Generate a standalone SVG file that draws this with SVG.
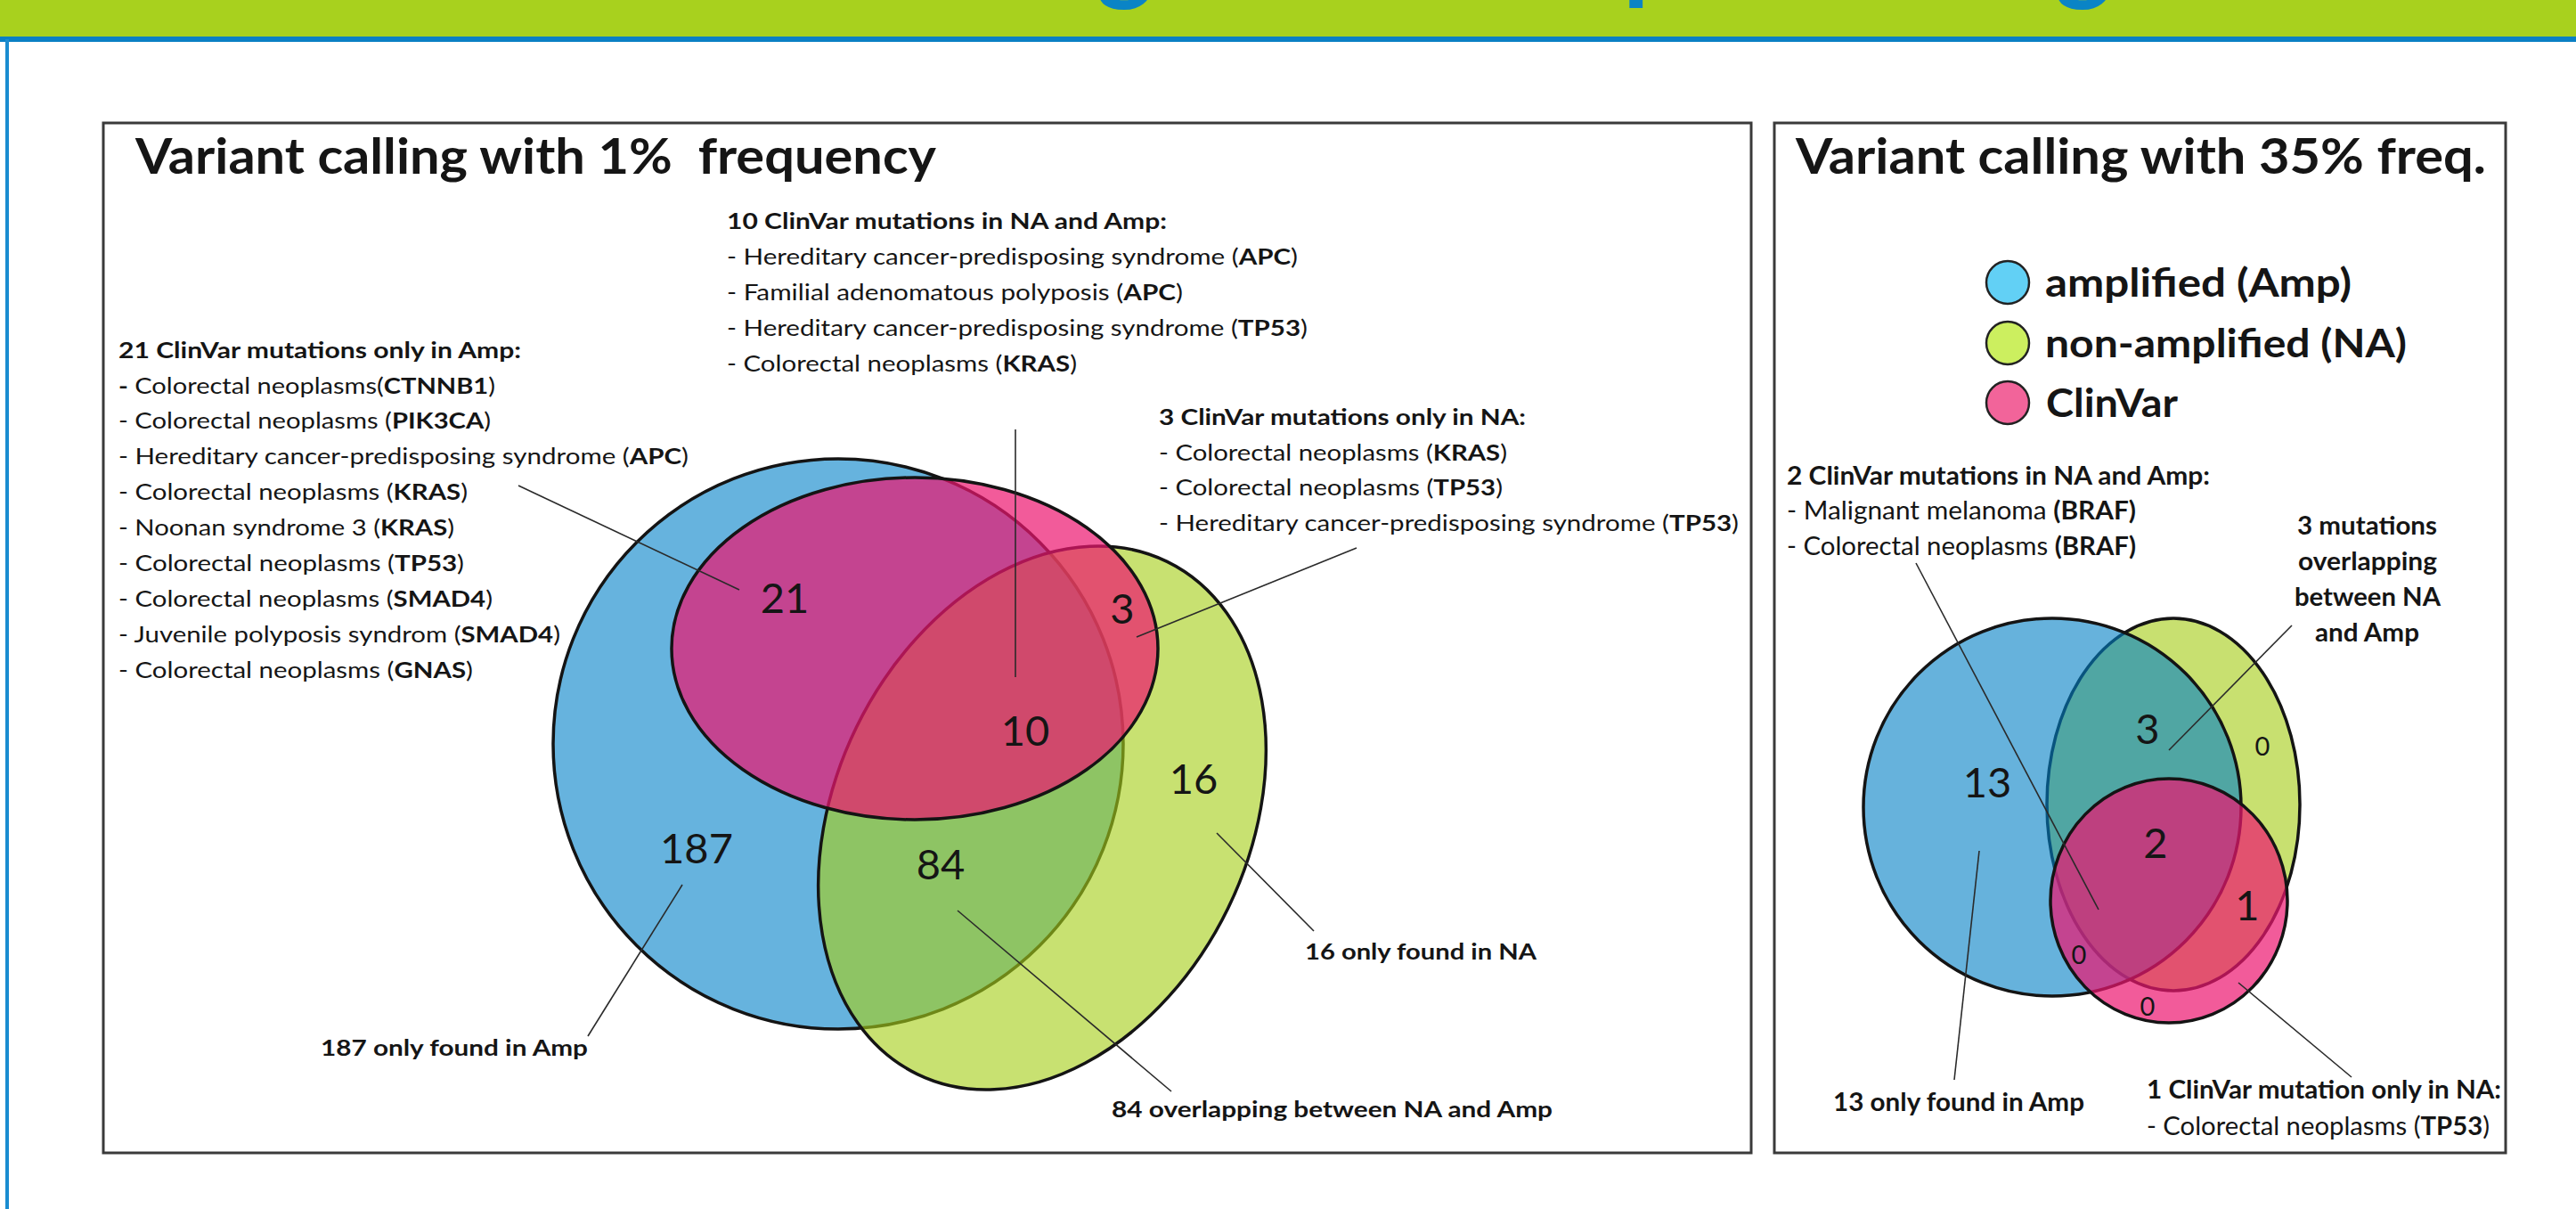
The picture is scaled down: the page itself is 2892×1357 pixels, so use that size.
<svg xmlns="http://www.w3.org/2000/svg" width="2892" height="1357" viewBox="0 0 2892 1357">
<style>
text{font-family:Lato,'Open Sans','Liberation Sans',sans-serif;fill:#151515}
.ti{font-size:56px;font-weight:700}
.l{font-size:25px}
.r{font-size:28px}
.b{font-weight:700}
.n{font-size:47px;text-anchor:middle}
.z{font-size:29px;text-anchor:middle}
.lg{font-size:43px;font-weight:700}
.box{fill:none;stroke:#3a3a3a;stroke-width:3}
.ol{stroke:#141414;stroke-width:3.5}
.ld{stroke:#2a2a2a;stroke-width:1.6;fill:none}
.ban{font-size:120px;font-weight:700;fill:#0A84C6}
.lc{stroke:#222;stroke-width:2.5}
</style>
<rect width="2892" height="1357" fill="#ffffff"/>
<g id="banner">
 <rect x="0" y="0" width="2892" height="42" fill="#A8D11E"/>
 <text class="ban" x="1263" y="-11" text-anchor="middle">g</text>
 <text class="ban" x="1822" y="-11">p</text>
 <text class="ban" x="2339" y="-11" text-anchor="middle">g</text>
 <rect x="0" y="41" width="2892" height="6" fill="#0A80C4"/>
 <rect x="6" y="44" width="4" height="1313" fill="#1A8CD0"/>
</g>

<g id="panel-left">
 <rect class="box" x="116" y="138" width="1850" height="1156"/>
 <text class="ti" x="152" y="195" textLength="899" lengthAdjust="spacingAndGlyphs" style="white-space:pre">Variant calling with 1%  frequency</text>
</g>
<g id="panel-right">
 <rect class="box" x="1992" y="138" width="821" height="1156"/>
 <text class="ti" x="2016" y="195" textLength="775" lengthAdjust="spacingAndGlyphs">Variant calling with 35% freq.</text>
</g>

<g id="legend">
 <g id="legend-amp">
  <circle class="lc" cx="2254" cy="317" r="24" fill="#62D0F5"/>
  <text class="lg" x="2296" y="333" textLength="344" lengthAdjust="spacingAndGlyphs">amplified (Amp)</text>
 </g>
 <g id="legend-na">
  <circle class="lc" cx="2254" cy="385" r="24" fill="#CCEF5F"/>
  <text class="lg" x="2296" y="401" textLength="406" lengthAdjust="spacingAndGlyphs">non-amplified (NA)</text>
 </g>
 <g id="legend-clinvar">
  <circle class="lc" cx="2254" cy="452" r="24" fill="#F2649A"/>
  <text class="lg" x="2297" y="468" textLength="148" lengthAdjust="spacingAndGlyphs">ClinVar</text>
 </g>
</g>

<g id="venn-left">
 <g id="amp-left"><circle class="ol" cx="941" cy="835" r="320" fill="#66B3DE"/></g>
 <g id="na-left"><ellipse class="ol" cx="1170" cy="918" rx="232" ry="320" transform="rotate(26 1170 918)" fill="#A6CF1A" fill-opacity="0.62"/></g>
 <g id="clinvar-left"><ellipse class="ol" cx="1027" cy="728" rx="273" ry="192" fill="#EC166F" fill-opacity="0.7"/></g>
 <g id="counts-left">
  <text class="n" x="881" y="688">21</text>
  <text class="n" x="1260" y="700">3</text>
  <text class="n" x="1151" y="837">10</text>
  <text class="n" x="1340" y="891">16</text>
  <text class="n" x="782" y="969">187</text>
  <text class="n" x="1056" y="987">84</text>
 </g>
</g>

<g id="venn-right">
 <g id="na-right"><ellipse class="ol" cx="2440" cy="903" rx="142" ry="209" fill="#C8E070"/></g>
 <g id="amp-right"><circle class="ol" cx="2304" cy="906" r="212" fill="#007EC5" fill-opacity="0.6"/></g>
 <g id="clinvar-right"><ellipse class="ol" cx="2435" cy="1011" rx="133" ry="137" fill="#EC166F" fill-opacity="0.7"/></g>
 <g id="counts-right">
  <text class="n" x="2231" y="895">13</text>
  <text class="n" x="2411" y="835">3</text>
  <text class="n" x="2420" y="963">2</text>
  <text class="n" x="2523" y="1033">1</text>
  <text class="z" x="2540" y="848">0</text>
  <text class="z" x="2334" y="1082">0</text>
  <text class="z" x="2411" y="1140">0</text>
 </g>
</g>

<g id="note-21">
 <text class="l b" x="133" y="402" textLength="452" lengthAdjust="spacingAndGlyphs">21 ClinVar mutations only in Amp:</text>
 <text class="l" x="133" y="442" textLength="423" lengthAdjust="spacingAndGlyphs"><tspan class="b">-</tspan> Colorectal neoplasms(<tspan class="b">CTNNB1</tspan>)</text>
 <text class="l" x="133" y="481" textLength="418" lengthAdjust="spacingAndGlyphs">- Colorectal neoplasms (<tspan class="b">PIK3CA</tspan>)</text>
 <text class="l" x="133" y="521" textLength="640" lengthAdjust="spacingAndGlyphs">- Hereditary cancer-predisposing syndrome (<tspan class="b">APC</tspan>)</text>
 <text class="l" x="133" y="561" textLength="392" lengthAdjust="spacingAndGlyphs">- Colorectal neoplasms (<tspan class="b">KRAS</tspan>)</text>
 <text class="l" x="133" y="601" textLength="377" lengthAdjust="spacingAndGlyphs">- Noonan syndrome 3 (<tspan class="b">KRAS</tspan>)</text>
 <text class="l" x="133" y="641" textLength="388" lengthAdjust="spacingAndGlyphs">- Colorectal neoplasms (<tspan class="b">TP53</tspan>)</text>
 <text class="l" x="133" y="681" textLength="420" lengthAdjust="spacingAndGlyphs">- Colorectal neoplasms (<tspan class="b">SMAD4</tspan>)</text>
 <text class="l" x="133" y="721" textLength="496" lengthAdjust="spacingAndGlyphs">- Juvenile polyposis syndrom (<tspan class="b">SMAD4</tspan>)</text>
 <text class="l" x="133" y="761" textLength="398" lengthAdjust="spacingAndGlyphs">- Colorectal neoplasms (<tspan class="b">GNAS</tspan>)</text>
</g>

<g id="note-10">
 <text class="l b" x="816" y="257" textLength="494" lengthAdjust="spacingAndGlyphs">10 ClinVar mutations in NA and Amp:</text>
 <text class="l" x="816" y="297" textLength="641" lengthAdjust="spacingAndGlyphs">- Hereditary cancer-predisposing syndrome (<tspan class="b">APC</tspan>)</text>
 <text class="l" x="816" y="337" textLength="512" lengthAdjust="spacingAndGlyphs">- Familial adenomatous polyposis (<tspan class="b">APC</tspan>)</text>
 <text class="l" x="816" y="377" textLength="652" lengthAdjust="spacingAndGlyphs">- Hereditary cancer-predisposing syndrome (<tspan class="b">TP53</tspan>)</text>
 <text class="l" x="816" y="417" textLength="393" lengthAdjust="spacingAndGlyphs">- Colorectal neoplasms (<tspan class="b">KRAS</tspan>)</text>
</g>

<g id="note-3">
 <text class="l b" x="1301" y="477" textLength="412" lengthAdjust="spacingAndGlyphs">3 ClinVar mutations only in NA:</text>
 <text class="l" x="1301" y="517" textLength="391" lengthAdjust="spacingAndGlyphs">- Colorectal neoplasms (<tspan class="b">KRAS</tspan>)</text>
 <text class="l" x="1301" y="556" textLength="386" lengthAdjust="spacingAndGlyphs">- Colorectal neoplasms (<tspan class="b">TP53</tspan>)</text>
 <text class="l" x="1301" y="596" textLength="651" lengthAdjust="spacingAndGlyphs">- Hereditary cancer-predisposing syndrome (<tspan class="b">TP53</tspan>)</text>
</g>

<g id="note-187"><text class="l b" x="360" y="1185" textLength="300" lengthAdjust="spacingAndGlyphs">187 only found in Amp</text></g>
<g id="note-16"><text class="l b" x="1465" y="1077" textLength="260" lengthAdjust="spacingAndGlyphs">16 only found in NA</text></g>
<g id="note-84"><text class="l b" x="1248" y="1254" textLength="495" lengthAdjust="spacingAndGlyphs">84 overlapping between NA and Amp</text></g>

<g id="note-2r">
 <text class="r b" x="2006" y="544" textLength="475" lengthAdjust="spacingAndGlyphs">2 ClinVar mutations in NA and Amp:</text>
 <text class="r" x="2006" y="583" textLength="392" lengthAdjust="spacingAndGlyphs">- Malignant melanoma <tspan class="b">(BRAF)</tspan></text>
 <text class="r" x="2006" y="623" textLength="392" lengthAdjust="spacingAndGlyphs">- Colorectal neoplasms <tspan class="b">(BRAF)</tspan></text>
</g>
<g id="note-3r">
 <text class="r b" x="2579" y="600" textLength="157" lengthAdjust="spacingAndGlyphs">3 mutations</text>
 <text class="r b" x="2580" y="640" textLength="156" lengthAdjust="spacingAndGlyphs">overlapping</text>
 <text class="r b" x="2576" y="680" textLength="164" lengthAdjust="spacingAndGlyphs">between NA</text>
 <text class="r b" x="2599" y="720" textLength="117" lengthAdjust="spacingAndGlyphs">and Amp</text>
</g>
<g id="note-13r"><text class="r b" x="2058" y="1247" textLength="282" lengthAdjust="spacingAndGlyphs">13 only found in Amp</text></g>
<g id="note-1r">
 <text class="r b" x="2410" y="1233" textLength="398" lengthAdjust="spacingAndGlyphs">1 ClinVar mutation only in NA:</text>
 <text class="r" x="2410" y="1274" textLength="385" lengthAdjust="spacingAndGlyphs">- Colorectal neoplasms (<tspan class="b">TP53</tspan>)</text>
</g>

<g id="connectors">
 <line class="ld" x1="582" y1="545" x2="830" y2="662"/>
 <line class="ld" x1="1140" y1="482" x2="1140" y2="760"/>
 <line class="ld" x1="1523" y1="615" x2="1276" y2="715"/>
 <line class="ld" x1="766" y1="993" x2="660" y2="1163"/>
 <line class="ld" x1="1075" y1="1022" x2="1315" y2="1225"/>
 <line class="ld" x1="1366" y1="935" x2="1475" y2="1045"/>
 <line class="ld" x1="2151" y1="632" x2="2356" y2="1021"/>
 <line class="ld" x1="2573" y1="702" x2="2435" y2="842"/>
 <line class="ld" x1="2222" y1="955" x2="2194" y2="1212"/>
 <line class="ld" x1="2513" y1="1103" x2="2640" y2="1209"/>
</g>
</svg>
